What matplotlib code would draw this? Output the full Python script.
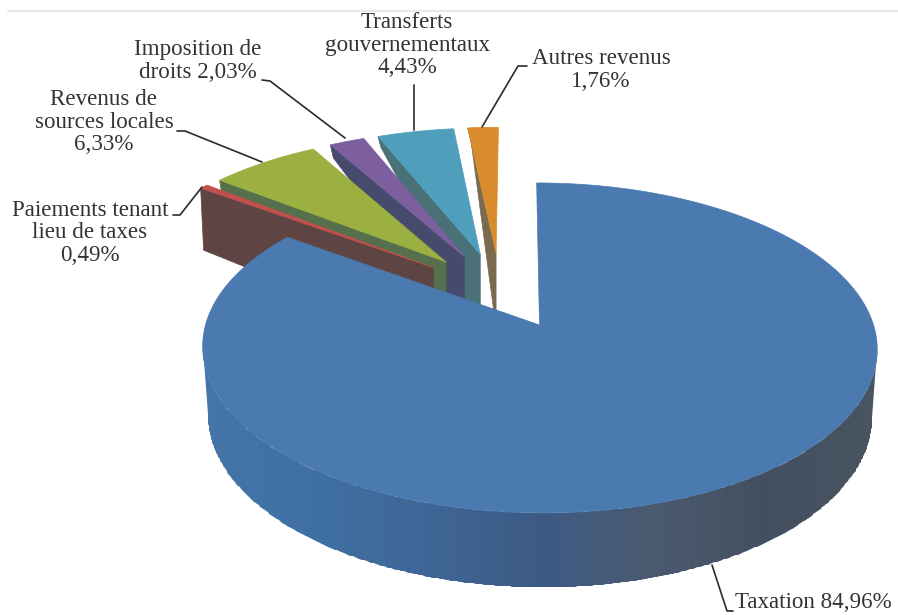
import numpy as np
import matplotlib
matplotlib.use("Agg")
import matplotlib.pyplot as plt
from matplotlib.patches import Polygon
from matplotlib.colors import LinearSegmentedColormap

plt.rcParams['font.family'] = ['Liberation Serif', 'DejaVu Serif']

# data
categories = ["Taxation", "Paiements tenant lieu de taxes", "Revenus de sources locales",
              "Imposition de droits", "Transferts gouvernementaux", "Autres revenus"]
shares = [84.96, 0.49, 6.33, 2.03, 4.43, 1.76]
labels = ["Taxation 84,96%", "Paiements tenant\nlieu de taxes\n0,49%",
          "Revenus de\nsources locales\n6,33%", "Imposition de\ndroits 2,03%",
          "Transferts\ngouvernementaux\n4,43%", "Autres revenus\n1,76%"]

# style
top_colors = ["#4a7ab0", "#c0504d", "#9bb040", "#7d5fa0", "#4f9fbc", "#d98c2c"]
face_colors = ["#3f6696", "#5e4544", "#566f4c", "#464a6c", "#4a7078", "#7a6a50"]
rim_depth = [0, 62, 20, 13, 11, 11]
apex_depth = 75
explode = 0.25
explode_xscale = 1.05
CX, CY = 539.5, 325.0
SX, SY, K = 334.0, 161.8, 0.139
SHEAR = 0.02
DEPTH = 66.5
wall_cmap = LinearSegmentedColormap.from_list(
    "wall", ["#4474a8", "#3f6fa3", "#3f6696", "#3d5a85", "#4a5a70", "#434f5f", "#485461"])

label_pos = [(735, 602, 'left'), (90, 233, 'center'), (104, 122, 'center'),
             (198, 61, 'center'), (407, 45, 'center'), (601, 70, 'center')]
leaders = [[(733, 611), (727, 611), (712, 565)],
           [(173, 215), (180, 215), (202, 187)],
           [(177, 131), (185, 131), (262, 162)],
           [(262, 80), (270, 81), (345, 138)],
           [(414, 85), (414, 130)],
           [(527, 66), (518, 66), (482, 127)]]


def project(X, Y):
    w = 1 + K * np.asarray(Y)
    v = SY * np.asarray(Y) / w
    return CX + SX * np.asarray(X) / w - SHEAR * v, CY - v


def depth_at(Y):
    return DEPTH / (1 + K * np.asarray(Y))


fig = plt.figure(figsize=(8.98, 6.15), dpi=100)
ax = fig.add_axes([0, 0, 1, 1])
ax.set_xlim(0, 898)
ax.set_ylim(615, 0)
ax.axis('off')

ax.plot([8, 898], [10.5, 10.5], color="#e8e8e8", lw=1.4)

edges = np.radians(np.concatenate([[0], np.cumsum(shares)]) * 3.6)
mids = (edges[:-1] + edges[1:]) / 2
ox = explode * (np.sin(mids) - np.sin(mids[0])) * explode_xscale
oy = explode * (np.cos(mids) - np.cos(mids[0]))


def add(x, y, fc, lw=0.5):
    ax.add_patch(Polygon(np.column_stack([x, y]), closed=True, fc=fc, ec=fc, lw=lw))


# exploded small slices, back to front
for i in range(len(shares) - 1, 0, -1):
    th = np.linspace(edges[i], edges[i + 1], 24)
    ax0, ay0 = project(ox[i], oy[i])
    rx, ry = project(ox[i] + np.sin(th), oy[i] + np.cos(th))
    # cut face on the near-left edge
    add([rx[0], ax0, ax0, rx[0] + 3],
        [ry[0], ay0, ay0 + apex_depth, ry[0] + rim_depth[i]], face_colors[i])
    add(np.r_[ax0, rx], np.r_[ay0, ry], top_colors[i])

# main slice wall, a shaded band clipped to the silhouette between the rim's extremes
th = np.linspace(edges[0], edges[1], 720)
X, Y = np.sin(th), np.cos(th)
tx, ty = project(X, Y)
bx = CX + (tx - CX) * 0.985
by = CY + (ty - CY) * 0.985 + depth_at(Y)
i0, i1 = int(np.argmax(tx)), int(np.argmin(tx))
outline = np.column_stack([np.r_[tx[i0:i1 + 1], bx[i0:i1 + 1][::-1]],
                           np.r_[ty[i0:i1 + 1], by[i0:i1 + 1][::-1]]])
gx = np.linspace(190, 890, 141)
gy = np.array([300, 600])
shade = ((gx[:-1] + gx[1:]) / 2 - 202) / 676
mesh = ax.pcolormesh(gx, gy, shade[None, :], cmap=wall_cmap, vmin=0, vmax=1,
                     shading='flat', antialiased=False)
wall = Polygon(outline, closed=True, transform=ax.transData, fc='none', ec='none')
ax.add_patch(wall)
mesh.set_clip_path(wall)

# main slice top
add(np.r_[CX, tx], np.r_[CY, ty], top_colors[0])

# labels and leader lines
for lab, (x, y, ha), pts in zip(labels, label_pos, leaders):
    ax.text(x, y, lab, ha=ha, va='center', fontsize=16.6, color="#333333",
            linespacing=1.12)
    p = np.array(pts)
    ax.plot(p[:, 0], p[:, 1], color="#2a2a2a", lw=1.2, solid_capstyle='round')

fig.savefig("out.png", dpi=100)
